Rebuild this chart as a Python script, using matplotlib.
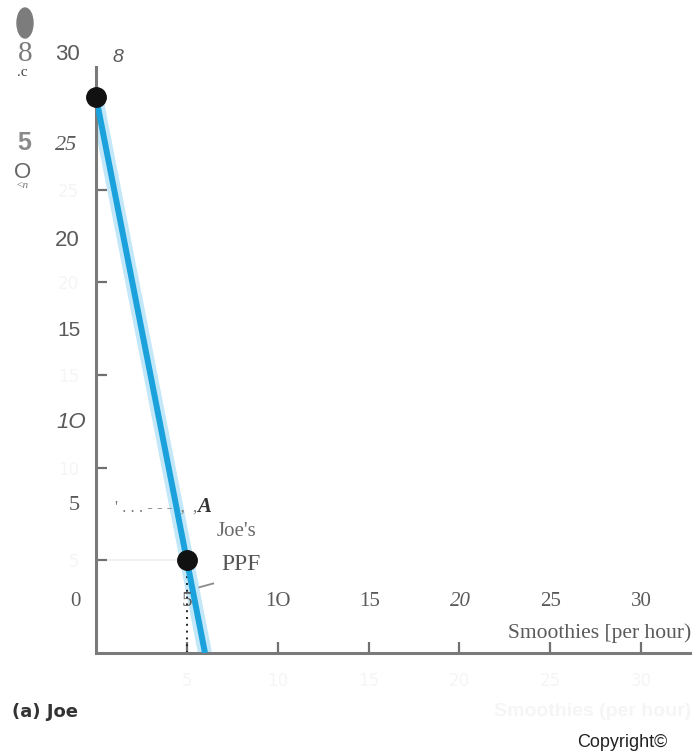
import matplotlib
matplotlib.use("Agg")
import matplotlib.pyplot as plt
from matplotlib.patches import Ellipse

# ---- data ----
ppf_smoothies = [0, 6]          # x values of Joe's PPF endpoints
ppf_juice = [30, 0]             # y values
dot_x = [0, 5]
dot_y = [30, 5]
point_a = (5, 5)
x_ticks = [5, 10, 15, 20, 25, 30]
y_ticks = [5, 10, 15, 20, 25]
y_overlay = ["30", "25", "20", "15", "1O", "5", "0"]
x_overlay = ["5", "1O", "15", "20", "25", "30"]

W, H = 692, 752
fig = plt.figure(figsize=(W / 100, H / 100), dpi=100)

def fx(px):
    return px / W

def fy(py):
    return 1 - py / H

# axes: x=0 -> px 96, x=30 -> px 641 ; y=0 -> px 653, y=30 -> px 97
xs = (641 - 96) / 30.0
ys = (653 - 97) / 30.0
xmax = (692 - 96) / xs
ymax = (653 - 67) / ys
ax = fig.add_axes([fx(96), fy(653), (692 - 96) / W, (653 - 67) / H])
ax.set_xlim(0, xmax)
ax.set_ylim(0, ymax)
for s in ["top", "right"]:
    ax.spines[s].set_visible(False)
for s in ["left", "bottom"]:
    ax.spines[s].set_color("#7a7a7a")
    ax.spines[s].set_linewidth(2.2)
ax.set_xticks(x_ticks)
ax.set_yticks(y_ticks)
ax.tick_params(direction="in", length=8, width=1.6, color="#707070",
               labelcolor="#f5f5f5", labelsize=12)
ax.tick_params(axis="x", pad=14)
ax.tick_params(axis="y", pad=12)
ax.patch.set_alpha(0)

# PPF: light band + dark line
ax.plot(ppf_smoothies, ppf_juice, color="#c2e7f8", lw=10, solid_capstyle="butt", zorder=2)
ax.plot(ppf_smoothies, ppf_juice, color="#1ba2dc", lw=4.3, solid_capstyle="butt", zorder=3)
# guides
ax.plot([point_a[0], point_a[0]], [0, point_a[1]], color="#222222", lw=1.4,
        ls=(0, (1, 2.5)), zorder=2)
ax.plot([0, point_a[0]], [point_a[1], point_a[1]], color="#ededed", lw=1.2, zorder=1)
ax.plot(dot_x, dot_y, "o", color="#111111", ms=14, zorder=4, clip_on=False)
# leader from PPF label
ax.plot([5.7, 6.45], [3.55, 3.75], color="#8a8a8a", lw=1.3, zorder=3)

grey = "#5a5a5a"
# y-axis overlay tick labels (pixel positions, family, style)
y_pos = [(67, 55, "Liberation Sans", "normal", 16),
         (66, 145, "Liberation Serif", "italic", 16),
         (67, 240, "Liberation Sans", "normal", 16),
         (69, 330, "Liberation Sans", "normal", 15),
         (71, 422, "Liberation Sans", "italic", 16),
         (74, 505, "Liberation Serif", "normal", 16),
         (75, 602, "Liberation Serif", "normal", 15)]
for t, (px, py, fam, st, fs) in zip(y_overlay, y_pos):
    fig.text(fx(px), fy(py), t, fontsize=fs, color=grey, family=fam, style=st,
             ha="center", va="center")
fig.text(fx(118), fy(57), "8", fontsize=14, color=grey, family="Liberation Sans",
         style="italic", ha="center", va="center")

# garbled y-axis title fragments
fig.add_artist(Ellipse((fx(25), fy(23)), 16 / W, 30 / H, transform=fig.transFigure,
                       color="#7c7c7c"))
fig.text(fx(25), fy(54), "8", fontsize=21, color="#7a7a7a", family="Liberation Serif",
         ha="center", va="center")
fig.text(fx(22), fy(72), ".c", fontsize=11, color="#444444", family="Liberation Serif",
         ha="center", va="center")
fig.text(fx(24), fy(143), "5", fontsize=18, color="#8a8a8a", family="Liberation Sans",
         weight="bold", ha="center", va="center")
fig.text(fx(23), fy(172), "O", fontsize=16, color="#666666", family="Liberation Sans",
         ha="center", va="center")
fig.text(fx(22), fy(186), "<n", fontsize=8, color="#777777", family="Liberation Serif",
         style="italic", ha="center", va="center")

# x-axis overlay labels
x_px = [187, 278, 370, 460, 551, 641]
x_st = ["normal", "normal", "normal", "italic", "normal", "normal"]
for t, px, st in zip(x_overlay, x_px, x_st):
    fig.text(fx(px), fy(602), t, fontsize=15, color=grey, family="Liberation Serif",
             style=st, ha="center", va="center")
fig.text(fx(691), fy(633), "Smoothies [per hour)", fontsize=15.5, color=grey,
         family="Liberation Serif", ha="right", va="center")

# point A label and PPF label
fig.text(fx(115), fy(508), "' . . . - - -  ,  ,", fontsize=12, color="#777777",
         family="Liberation Serif", ha="left", va="center")
fig.text(fx(197), fy(507), "A", fontsize=15, color="#333333", family="Liberation Serif",
         weight="bold", style="italic", ha="left", va="center")
fig.text(fx(217), fy(532), "Joe's", fontsize=15, color="#6a6a6a", family="Liberation Serif",
         ha="left", va="center")
fig.text(fx(221), fy(565), "PPF", fontsize=17, color="#555555", family="Liberation Serif",
         ha="left", va="center")

# faint ghost axis title below axis
fig.text(fx(691), fy(712), "Smoothies (per hour)", fontsize=14, color="#f5f5f5",
         family="Liberation Sans", weight="bold", ha="right", va="center")

fig.text(fx(12), fy(712), "(a) Joe", fontsize=13, color="#333333", family="DejaVu Sans",
         weight="bold", ha="left", va="center")
fig.text(fx(577), fy(751), "Copyright\u00a9", fontsize=13, color="#222222",
         family="Liberation Sans", ha="left", va="bottom")

fig.savefig("out.png", dpi=100)
